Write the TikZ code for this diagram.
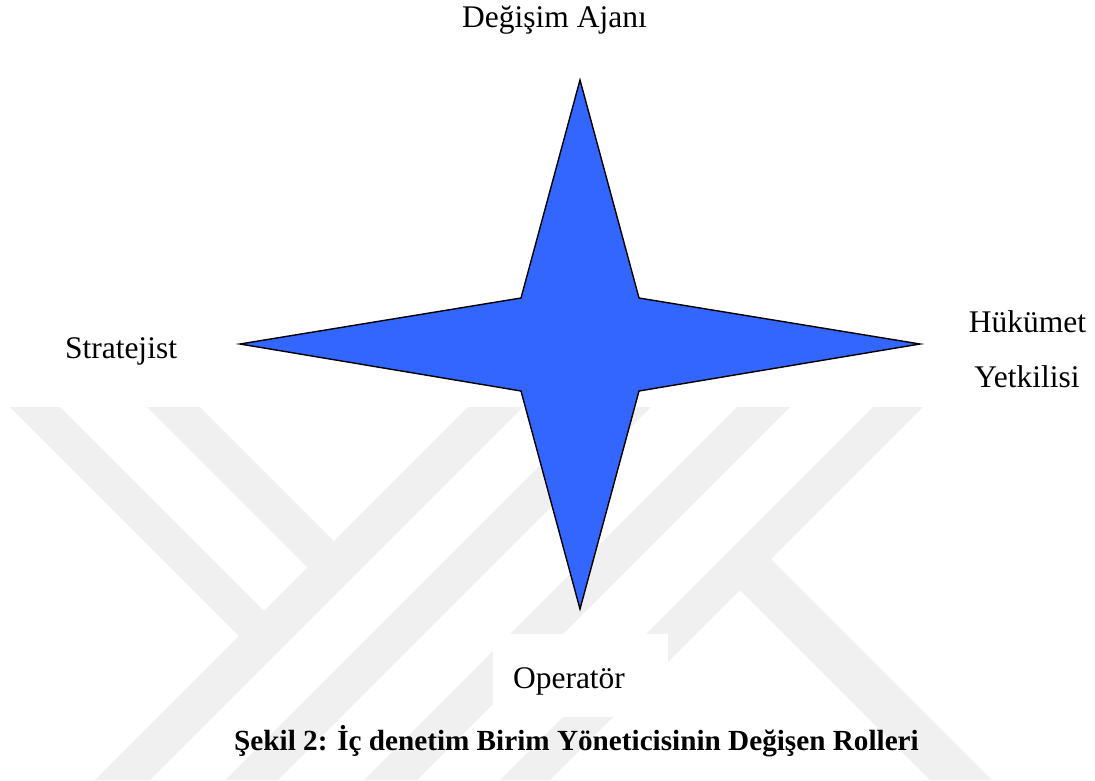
\documentclass[tikz,border=0pt]{standalone}
\usepackage{fontspec}
\setmainfont{Liberation Serif}
\definecolor{wm}{RGB}{240,240,240}
\definecolor{starblue}{RGB}{51,102,255}
\begin{document}
\begin{tikzpicture}[x=1pt,y=-1pt,
  lbl/.style={font=\fontsize{31.5}{36}\selectfont, inner sep=0pt, anchor=base},
  captext/.style={font=\fontsize{29.2}{34}\selectfont\bfseries, inner sep=0pt, anchor=base},
  wmark/.style={fill=wm, draw=none},
  starshape/.style={fill=starblue, draw=black, line width=1.4pt, line join=miter}]
\useasboundingbox (0,0) rectangle (1095,780);
\fill[white] (0,0) rectangle (1095,780);
% watermark stripes
\fill[wmark] (10,407) -- (60,407) -- (264,611) -- (239,636) -- cycle;
\fill[wmark] (147,407) -- (200,407) -- (334,541) -- (307.5,567.5) -- cycle;
\fill[wmark] (468,407) -- (523,407) -- (150,780) -- (95,780) -- cycle;
\fill[wmark] (598,407) -- (651,407) -- (278,780) -- (225,780) -- cycle;
\fill[wmark] (737,407) -- (790,407) -- (417,780) -- (364,780) -- cycle;
\fill[wmark] (873,407) -- (923,407) -- (550,780) -- (500,780) -- cycle;
\fill[wmark] (771,559) -- (992,780) -- (930,780) -- (740,590) -- cycle;
% star
\coordinate (top) at (580,80);
\coordinate (bot) at (580,609);
\coordinate (lft) at (240,344);
\coordinate (rgt) at (920,344);
\draw[starshape] (top) -- (639,298) -- (rgt) -- (639,391) -- (bot) -- (521,391) -- (lft) -- (521,298) -- cycle;
% labels
\node[lbl, anchor=base east] (ajan) at (647,27) {Değişim Ajanı};
\node[lbl] (strat) at (121,358) {Stratejist};
\node[lbl] (huk) at (1027.5,332) {Hükümet};
\node[lbl] (yet) at (1027,387) {Yetkilisi};
\fill[white] (493,634) rectangle (668,717);
\node[lbl] (oper) at (569,688) {Operatör};
\node[captext] (caption) at (576.5,750) {Şekil 2: İç denetim Birim Yöneticisinin Değişen Rolleri};
\end{tikzpicture}
\end{document}
